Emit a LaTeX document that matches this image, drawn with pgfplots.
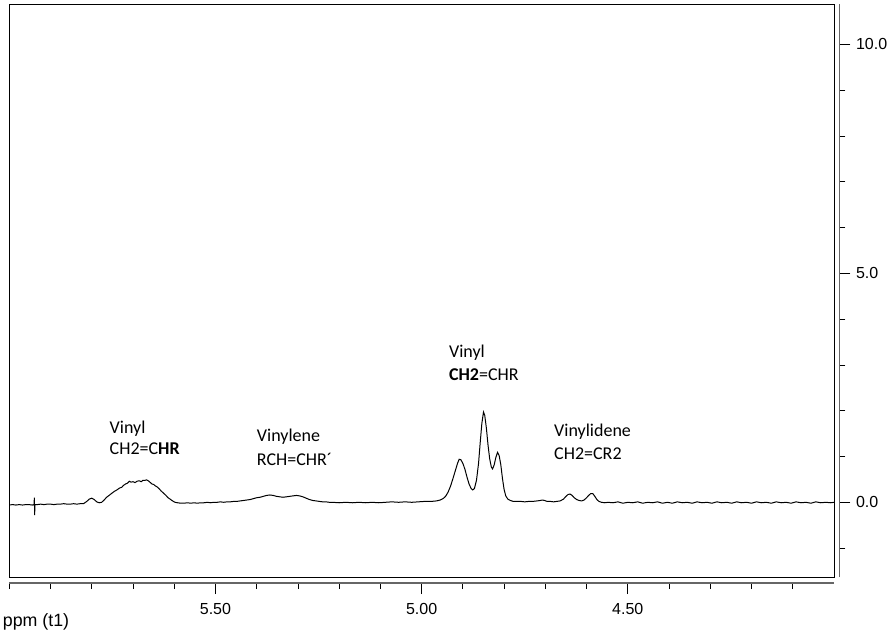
\documentclass[border=0pt]{standalone}
\usepackage{fontspec}
\setmainfont{Carlito}
\newfontfamily\arialfont{Liberation Sans}
\usepackage{pgfplots}
\pgfplotsset{compat=1.18}
\usepackage{pgfplotstable}
\pgfplotstableread{
ppm val
6.000 -0.06
5.992 -0.05
5.984 -0.06
5.976 -0.05
5.968 -0.06
5.960 -0.05
5.952 -0.05
5.944 -0.06
5.940 -0.05
5.9392 0.10
5.9385 -0.28
5.9378 -0.05
5.932 -0.05
5.924 -0.04
5.916 -0.05
5.908 -0.04
5.900 -0.04
5.892 -0.05
5.884 -0.04
5.876 -0.04
5.868 -0.03
5.860 -0.04
5.852 -0.04
5.844 -0.03
5.836 -0.04
5.828 -0.03
5.820 -0.03
5.812 0.02
5.806 0.07
5.800 0.09
5.794 0.06
5.788 0.01
5.782 -0.01
5.776 0.00
5.770 0.05
5.764 0.11
5.758 0.15
5.751 0.20
5.745 0.24
5.739 0.27
5.733 0.31
5.727 0.33
5.723 0.37
5.718 0.40
5.713 0.42
5.709 0.46
5.705 0.44
5.700 0.45
5.695 0.43
5.690 0.46
5.685 0.47
5.680 0.45
5.676 0.48
5.671 0.48
5.667 0.49
5.663 0.47
5.659 0.44
5.654 0.40
5.650 0.39
5.646 0.36
5.642 0.34
5.637 0.30
5.632 0.25
5.626 0.20
5.620 0.15
5.615 0.10
5.610 0.07
5.604 0.03
5.598 0.00
5.592 -0.01
5.584 -0.02
5.576 -0.02
5.568 -0.01
5.560 -0.02
5.552 -0.01
5.544 -0.02
5.536 -0.01
5.528 -0.01
5.520 0.00
5.512 -0.01
5.504 0.00
5.496 0.00
5.488 0.01
5.480 0.00
5.472 0.01
5.464 0.01
5.456 0.02
5.448 0.02
5.440 0.03
5.432 0.04
5.424 0.05
5.416 0.06
5.408 0.08
5.400 0.10
5.392 0.11
5.384 0.13
5.376 0.15
5.368 0.16
5.360 0.15
5.352 0.13
5.344 0.12
5.336 0.11
5.328 0.12
5.320 0.13
5.312 0.14
5.304 0.15
5.296 0.14
5.288 0.12
5.280 0.09
5.272 0.06
5.264 0.04
5.256 0.03
5.248 0.02
5.240 0.01
5.232 0.01
5.224 0.00
5.216 0.00
5.200 -0.01
5.184 0.00
5.168 -0.01
5.152 0.00
5.136 -0.01
5.120 0.00
5.104 -0.01
5.088 0.00
5.072 0.01
5.056 0.00
5.040 0.01
5.024 0.00
5.008 0.01
4.992 0.02
4.976 0.02
4.964 0.03
4.955 0.05
4.948 0.08
4.942 0.13
4.936 0.22
4.930 0.35
4.924 0.52
4.918 0.70
4.913 0.85
4.909 0.94
4.905 0.93
4.900 0.85
4.895 0.72
4.890 0.55
4.885 0.40
4.880 0.30
4.876 0.27
4.872 0.30
4.867 0.48
4.862 0.85
4.858 1.30
4.854 1.72
4.850 1.97
4.847 1.90
4.843 1.62
4.839 1.25
4.835 0.95
4.831 0.77
4.828 0.73
4.824 0.82
4.820 0.98
4.816 1.09
4.812 1.02
4.808 0.82
4.804 0.52
4.800 0.28
4.796 0.14
4.791 0.07
4.785 0.04
4.778 0.02
4.770 0.02
4.760 0.02
4.750 0.01
4.740 0.02
4.730 0.02
4.720 0.03
4.712 0.04
4.707 0.05
4.702 0.04
4.696 0.02
4.688 0.02
4.680 0.01
4.672 0.02
4.664 0.03
4.656 0.07
4.650 0.13
4.645 0.17
4.640 0.18
4.635 0.15
4.630 0.10
4.624 0.06
4.618 0.04
4.612 0.03
4.606 0.05
4.600 0.10
4.595 0.15
4.590 0.19
4.585 0.19
4.580 0.13
4.575 0.06
4.570 0.02
4.564 0.00
4.556 -0.01
4.548 0.00
4.536 -0.01
4.524 0.01
4.512 -0.02
4.500 0.00
4.488 -0.01
4.476 0.01
4.464 -0.02
4.452 0.00
4.440 -0.01
4.428 0.01
4.416 -0.02
4.404 0.00
4.392 -0.02
4.380 0.01
4.368 -0.01
4.356 0.00
4.344 -0.02
4.332 0.01
4.320 -0.01
4.308 0.00
4.296 -0.02
4.284 0.01
4.272 -0.01
4.260 0.00
4.248 -0.02
4.236 0.01
4.224 -0.01
4.212 0.00
4.200 -0.02
4.188 0.01
4.176 -0.01
4.164 0.00
4.152 -0.02
4.140 0.01
4.128 -0.01
4.116 0.00
4.104 -0.02
4.092 0.01
4.080 -0.01
4.068 0.00
4.056 -0.02
4.044 0.01
4.032 -0.01
4.020 0.00
4.008 -0.01
4.000 0.00
}\spectrum
\begin{document}
\begin{tikzpicture}[x=1pt,y=1pt]
\useasboundingbox (0,0) rectangle (892,633);
% frame and data
\begin{axis}[at={(9.3pt,56pt)}, anchor=south west,
  width=824.7pt, height=573pt, scale only axis,
  x dir=reverse, xmin=4.0, xmax=6.0, ymin=-1.631, ymax=10.88,
  xtick=\empty, ytick=\empty,
  axis line style={black, line width=0.8pt},
  clip=true]
\addplot[black, line width=1pt] table[x=ppm, y=val] {\spectrum};
\node[anchor=base west, font=\fontsize{18}{21}\selectfont] at (axis cs:5.765,1.513) {Vinyl};
\node[anchor=base west, font=\fontsize{18}{21}\selectfont] at (axis cs:5.765,1.033) {CH2=C\textbf{HR}};
\node[anchor=base west, font=\fontsize{18}{21}\selectfont] at (axis cs:5.408,1.317) {Vinylene};
\node[anchor=base west, font=\fontsize{18}{21}\selectfont] at (axis cs:5.408,0.814) {RCH=CHR´};
\node[anchor=base west, font=\fontsize{18}{21}\selectfont] at (axis cs:4.942,3.151) {Vinyl};
\node[anchor=base west, font=\fontsize{18}{21}\selectfont] at (axis cs:4.942,2.670) {\textbf{CH2}=CHR};
\node[anchor=base west, font=\fontsize{18}{21}\selectfont] at (axis cs:4.687,1.426) {Vinylidene};
\node[anchor=base west, font=\fontsize{18}{21}\selectfont] at (axis cs:4.687,0.945) {CH2=CR2};
\end{axis}
% separate scale axes
\begin{axis}[at={(9.3pt,56pt)}, anchor=south west,
  width=824.7pt, height=573pt, scale only axis,
  x dir=reverse, xmin=4.0, xmax=6.0, ymin=-1.631, ymax=10.88,
  axis x line*=bottom, axis y line*=right,
  axis x line shift=6pt, axis y line shift=5.5pt,
  axis line style={-, gray!80!black, line width=1.3pt},
  tick align=outside,
  tick style={black, line width=0.8pt},
  major tick length=11pt, minor tick length=6pt,
  xtick={4.5,5.0,5.5}, xticklabels={4.50,5.00,5.50},
  minor xtick={4.1,4.2,4.3,4.4,4.6,4.7,4.8,4.9,5.1,5.2,5.3,5.4,5.6,5.7,5.8,5.9,6.0},
  ytick={0,5,10}, yticklabels={0.0,5.0,10.0},
  minor ytick={-1,1,2,3,4,6,7,8,9},
  ticklabel style={font=\arialfont\fontsize{16}{16}\selectfont},
  xticklabel style={yshift=-6pt},
  yticklabel style={xshift=2pt},
  ]
\end{axis}
\node[anchor=west, font=\arialfont\fontsize{17.8}{18}\selectfont, inner sep=0pt] at (2.7,11) {ppm (t1)};
\end{tikzpicture}
\end{document}
